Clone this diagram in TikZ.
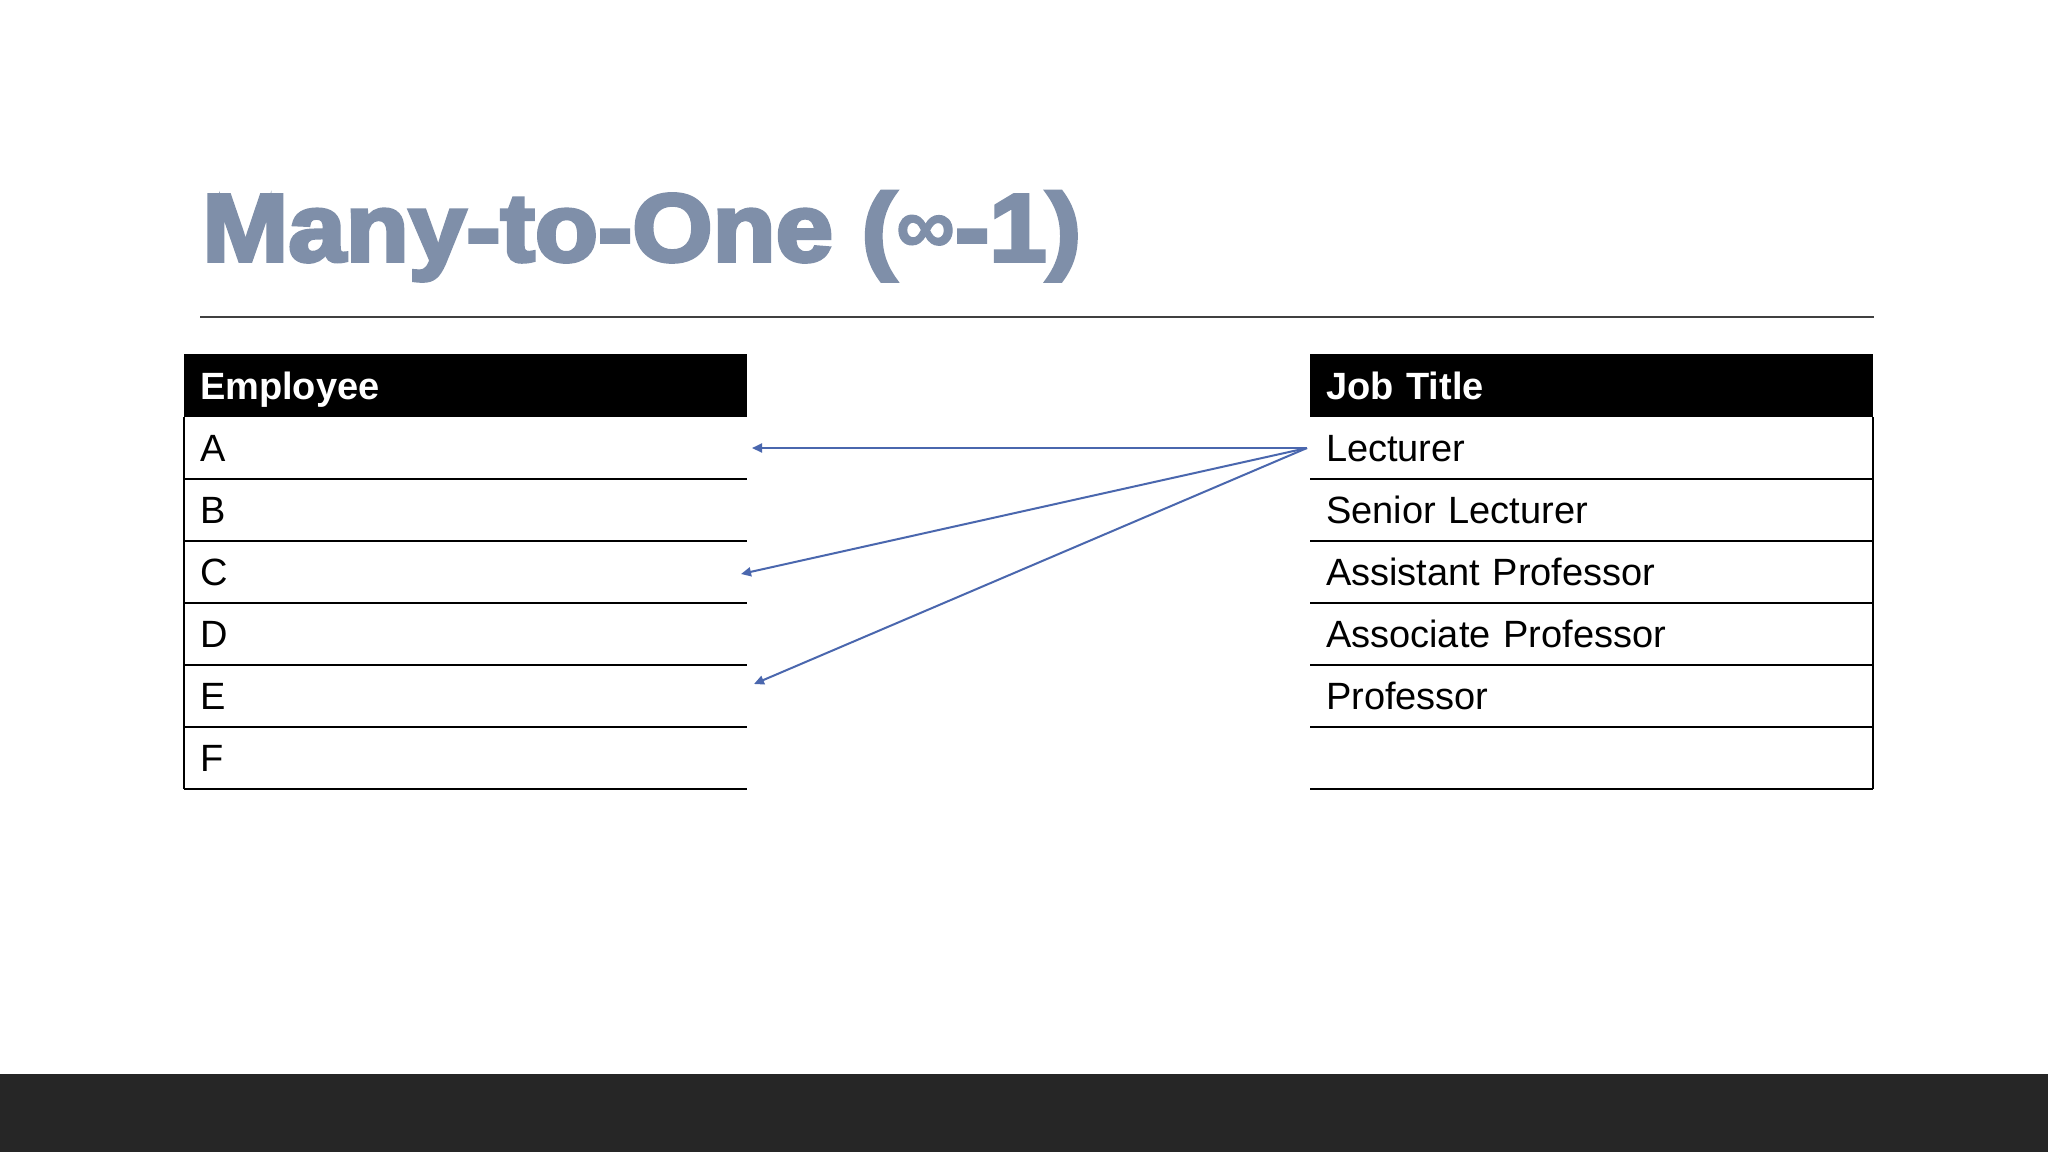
\documentclass[tikz,border=0pt]{standalone}
\usepackage{graphicx}
\usepackage{fontspec}
\setmainfont{Liberation Sans}
\newfontfamily\titlefont[BoldFeatures={FakeBold=4,FakeStretch=1.075}]{Liberation Sans}
\newfontfamily\inffont[FakeBold=1.5]{Liberation Sans}
\usetikzlibrary{arrows.meta}
\definecolor{titlecol}{HTML}{7F8FA9}
\definecolor{rulecol}{HTML}{404040}
\definecolor{arrowblue}{HTML}{4A67AE}
\definecolor{barcol}{HTML}{262626}
\tikzset{
  hdrcell/.style={anchor=north west, fill=black, text=white, inner xsep=8pt, inner ysep=0pt, outer sep=0pt,
    minimum width=281.5pt, minimum height=31.5pt, text width=265.5pt, align=left,
    text height=13.5pt, text depth=0pt, font=\bfseries\fontsize{19}{19}\selectfont},
  rowcell/.style={anchor=north west, inner xsep=8pt, inner ysep=0pt, outer sep=0pt,
    minimum width=281.5pt, minimum height=31pt, text width=265.5pt, align=left,
    text height=13.8pt, text depth=0pt, font=\fontsize{19}{19}\selectfont},
  tline/.style={line width=1.2pt, black},
  arr/.style={draw=arrowblue, line width=1pt, -{Triangle[length=5pt,width=4.5pt]}}
}
\begin{document}
\begin{tikzpicture}[x=0.5pt,y=-0.5pt]
\useasboundingbox (0,0) rectangle (2048,1152);
\fill[white] (0,0) rectangle (2048,1152);
\fill[barcol] (0,1074) rectangle (2048,1152);
% title
\node[anchor=base west, inner sep=0pt, text=titlecol, font=\titlefont\bfseries\fontsize{48}{48}\selectfont] (title) at (202,261) {Many-to-One ({\inffont\raisebox{3.5pt}{\scalebox{0.86}{∞}}}-1)};
\draw[rulecol, line width=1pt] (200,317) -- (1874,317);
% left table
\node[hdrcell] (eh) at (184,354) {Employee};
\node[rowcell] (e1) at (eh.south west) {A};
\node[rowcell] (e2) at (e1.south west) {B};
\node[rowcell] (e3) at (e2.south west) {C};
\node[rowcell] (e4) at (e3.south west) {D};
\node[rowcell] (e5) at (e4.south west) {E};
\node[rowcell] (e6) at (e5.south west) {F};
\draw[tline] (eh.south west) -- (e6.south west);
\foreach \r in {e1,e2,e3,e4,e5,e6} \draw[tline] (\r.south west) -- (\r.south east);
% right table
\node[hdrcell] (jh) at (1310,354) {Job Title};
\node[rowcell] (j1) at (jh.south west) {Lecturer};
\node[rowcell] (j2) at (j1.south west) {Senior Lecturer};
\node[rowcell] (j3) at (j2.south west) {Assistant Professor};
\node[rowcell] (j4) at (j3.south west) {Associate Professor};
\node[rowcell] (j5) at (j4.south west) {Professor};
\node[rowcell] (j6) at (j5.south west) {};
\draw[tline] (jh.south east) -- (j6.south east);
\foreach \r in {j1,j2,j3,j4,j5,j6} \draw[tline] (\r.south west) -- (\r.south east);
% arrows
\coordinate (src) at ([xshift=-1.5pt]j1.west);
\draw[arr] (src) -- ([xshift=2.5pt]e1.east);
\draw[arr] (src) -- ([xshift=-3pt,yshift=-1pt]e3.east);
\draw[arr] (src) -- ([xshift=3.5pt,yshift=6pt]e5.east);
\end{tikzpicture}
\end{document}
